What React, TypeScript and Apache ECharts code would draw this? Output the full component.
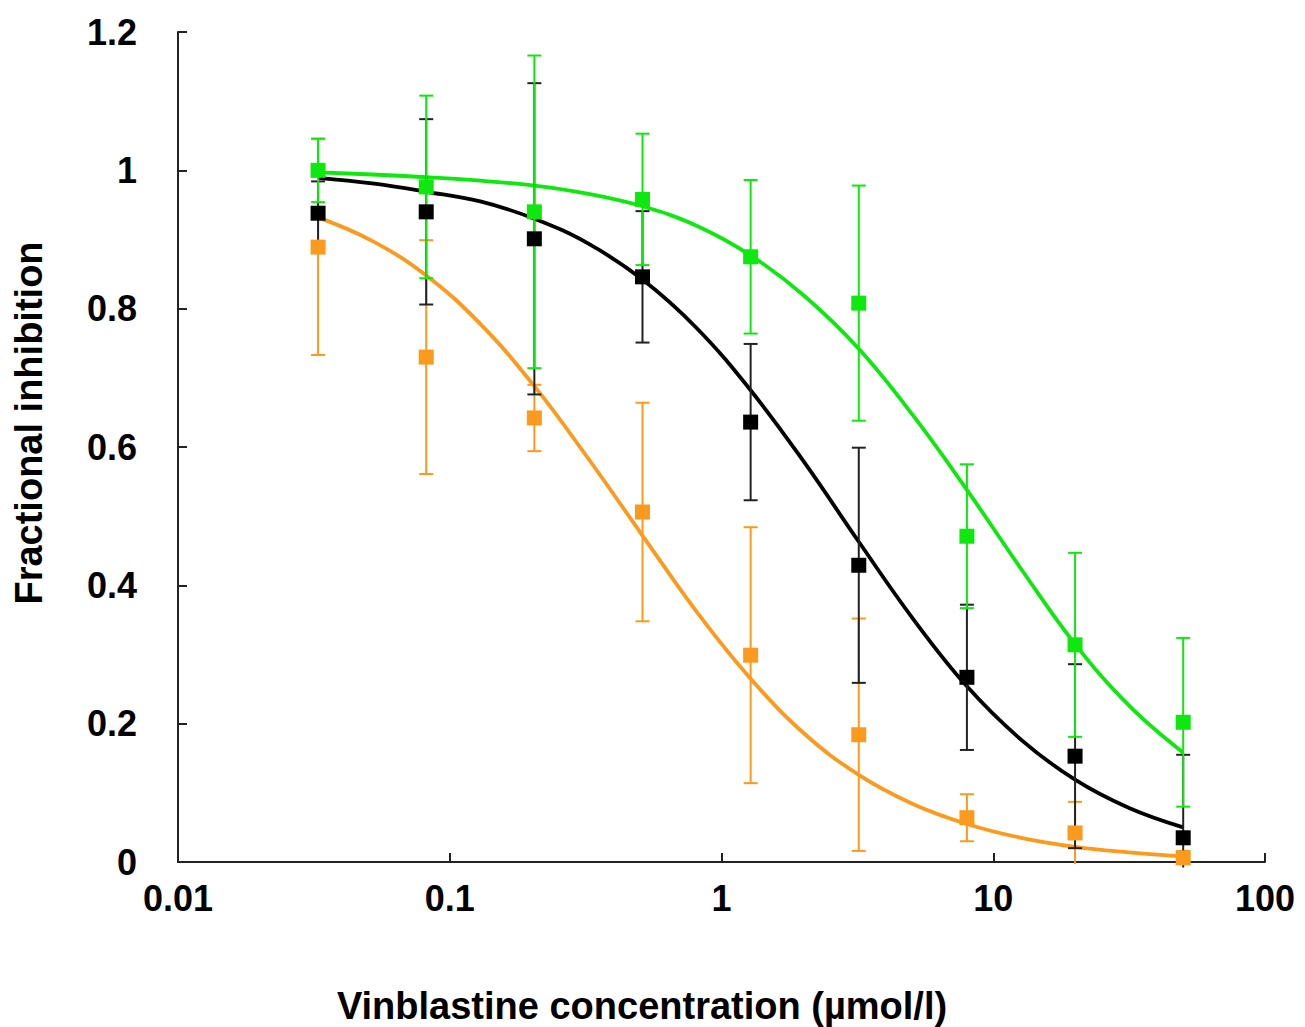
import React, { useEffect, useRef } from "react";
import * as echarts from "echarts";

// Vinblastine concentrations (µmol/l)
const concentrations = [0.032768, 0.08192, 0.2048, 0.512, 1.28, 3.2, 8, 20, 50];

// Measured means and error (±)
const greenMean = [1.0, 0.976, 0.94, 0.958, 0.875, 0.808, 0.471, 0.314, 0.202];
const greenErr = [0.046, 0.132, 0.226, 0.095, 0.111, 0.17, 0.104, 0.133, 0.122];
const blackMean = [0.938, 0.94, 0.901, 0.846, 0.636, 0.429, 0.267, 0.153, 0.035];
const blackErr = [0.046, 0.134, 0.225, 0.095, 0.113, 0.17, 0.105, 0.133, 0.12];
const orangeMean = [0.889, 0.73, 0.642, 0.506, 0.299, 0.184, 0.064, 0.042, 0.006];
const orangeErr = [0.156, 0.169, 0.048, 0.158, 0.185, 0.168, 0.034, 0.045, 0.01];

// Fitted curves at these concentrations
const curveX = [
  0.032768, 0.0518, 0.08192, 0.1295, 0.2048, 0.3238, 0.512, 0.8095, 1.28, 2.024, 3.2, 5.06, 8,
  12.65, 20, 31.62, 50,
];
const greenCurve = [
  0.997, 0.994, 0.99, 0.985, 0.978, 0.966, 0.948, 0.92, 0.877, 0.818, 0.742, 0.646, 0.538, 0.424,
  0.315, 0.226, 0.158,
];
const blackCurve = [
  0.989, 0.981, 0.969, 0.955, 0.93, 0.894, 0.842, 0.772, 0.682, 0.577, 0.463, 0.352, 0.254, 0.177,
  0.119, 0.078, 0.05,
];
const orangeCurve = [
  0.932, 0.898, 0.848, 0.778, 0.688, 0.583, 0.472, 0.362, 0.265, 0.185, 0.126, 0.084, 0.055, 0.035,
  0.022, 0.014, 0.008,
];

// Tick labels
const xTickValues = [0.01, 0.1, 1, 10, 100];
const xTickLabels = ["0.01", "0.1", "1", "10", "100"];
const yTickValues = [0, 0.2, 0.4, 0.6, 0.8, 1, 1.2];
const yTickLabels = ["0", "0.2", "0.4", "0.6", "0.8", "1", "1.2"];

const xTitle = "Vinblastine concentration (µmol/l)";
const yTitle = "Fractional inhibition";

const GREEN = "#0ee80e";
const BLACK = "#000000";
const ORANGE = "#fb9a1c";
const FONT = "'Liberation Sans', Arial, sans-serif";

function pairs(xs: number[], ys: number[]) {
  return xs.map((x, i) => [x, ys[i]]);
}
function errData(m: number[], e: number[]) {
  return concentrations.map((x, i) => [x, m[i] - e[i], m[i] + e[i]]);
}

function errorSeries(name: string, m: number[], e: number[], color: string) {
  return {
    type: "custom",
    name,
    clip: false,
    z: 3,
    data: errData(m, e),
    encode: { x: 0, y: [1, 2] },
    renderItem: (params: any, api: any) => {
      const x = api.value(0);
      const lo = api.coord([x, Math.max(api.value(1), -0.008)]);
      const hi = api.coord([x, api.value(2)]);
      const cap = 7;
      const style = { stroke: color, lineWidth: 2 };
      const children: any[] = [
        { type: "line", shape: { x1: lo[0], y1: lo[1], x2: hi[0], y2: hi[1] }, style },
        { type: "line", shape: { x1: hi[0] - cap, y1: hi[1], x2: hi[0] + cap, y2: hi[1] }, style },
      ];
      if (api.value(1) >= 0) {
        children.push({
          type: "line",
          shape: { x1: lo[0] - cap, y1: lo[1], x2: lo[0] + cap, y2: lo[1] },
          style,
        });
      }
      return { type: "group", children };
    },
  };
}

function curveSeries(name: string, ys: number[], color: string) {
  return {
    type: "line",
    name,
    data: pairs(curveX, ys),
    smooth: 0.4,
    showSymbol: false,
    z: 2,
    lineStyle: { color, width: 3.8 },
  };
}

function markerSeries(name: string, ys: number[], color: string) {
  return {
    type: "scatter",
    name,
    data: pairs(concentrations, ys),
    symbol: "rect",
    symbolSize: 15,
    z: 4,
    itemStyle: { color, opacity: 1 },
  };
}

export default function App() {
  const ref = useRef<HTMLDivElement>(null);
  useEffect(() => {
    if (!ref.current) return;
    const chart = echarts.init(ref.current, null, { renderer: "svg" });
    chart.setOption({
      animation: false,
      backgroundColor: "#ffffff",
      grid: { left: 178, right: 40, top: 32, bottom: 165, containLabel: false },
      xAxis: {
        type: "log",
        logBase: 10,
        min: 0.01,
        max: 100,
        axisLine: { lineStyle: { color: "#222", width: 2 } },
        axisTick: { inside: true, length: 9, lineStyle: { color: "#222", width: 2 } },
        splitLine: { show: false },
        axisLabel: {
          color: "#000",
          fontFamily: FONT,
          fontWeight: "bold",
          fontSize: 36,
          margin: 18,
          formatter: (v: number) => {
            const i = xTickValues.findIndex((t) => Math.abs(Math.log10(t) - Math.log10(v)) < 1e-6);
            return i >= 0 ? xTickLabels[i] : "";
          },
        },
      },
      yAxis: {
        type: "value",
        min: 0,
        max: 1.2,
        interval: 0.2,
        axisLine: { show: true, lineStyle: { color: "#222", width: 2 } },
        axisTick: { show: true, inside: true, length: 9, lineStyle: { color: "#222", width: 2 } },
        splitLine: { show: false },
        axisLabel: {
          color: "#000",
          fontFamily: FONT,
          fontWeight: "bold",
          fontSize: 36,
          margin: 41,
          formatter: (v: number) => {
            const i = yTickValues.findIndex((t) => Math.abs(t - v) < 1e-6);
            return i >= 0 ? yTickLabels[i] : "";
          },
        },
      },
      graphic: [
        {
          type: "text",
          x: 642,
          y: 1006,
          style: {
            text: xTitle,
            fill: "#000",
            font: `bold 38px ${FONT}`,
            textAlign: "center",
            textVerticalAlign: "middle",
          },
        },
        {
          type: "text",
          x: 29,
          y: 423,
          rotation: Math.PI / 2,
          style: {
            text: yTitle,
            fill: "#000",
            font: `bold 38px ${FONT}`,
            textAlign: "center",
            textVerticalAlign: "middle",
          },
        },
      ],
      series: [
        curveSeries("orange fit", orangeCurve, ORANGE),
        curveSeries("black fit", blackCurve, BLACK),
        curveSeries("green fit", greenCurve, GREEN),
        errorSeries("orange err", orangeMean, orangeErr, ORANGE),
        errorSeries("black err", blackMean, blackErr, "#222"),
        errorSeries("green err", greenMean, greenErr, GREEN),
        markerSeries("orange", orangeMean, ORANGE),
        markerSeries("black", blackMean, BLACK),
        markerSeries("green", greenMean, GREEN),
      ],
    });
    return () => chart.dispose();
  }, []);
  return (
    <div
      ref={ref}
      style={{ position: "absolute", left: 0, top: 0, width: 1305, height: 1027 }}
    />
  );
}
